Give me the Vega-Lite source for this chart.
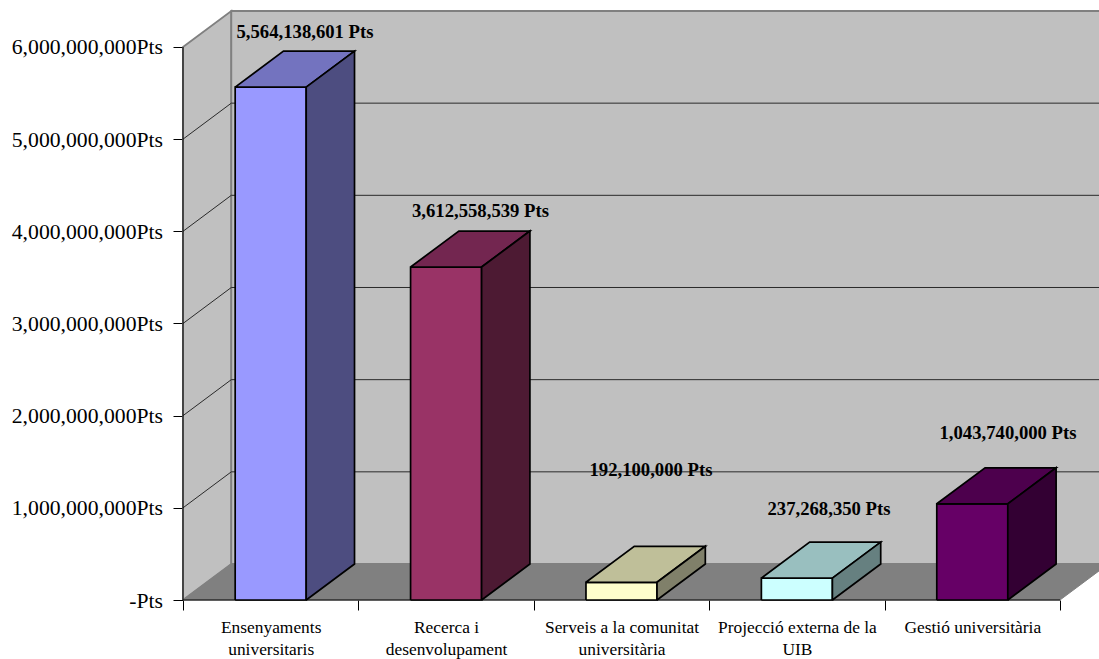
{
  "$schema": "https://vega.github.io/schema/vega-lite/v6.json",
  "width": 1099,
  "height": 659,
  "padding": 0,
  "autosize": {"type": "none"},
  "background": "#FFFFFF",
  "view": {"stroke": null},
  "config": {"font": "Liberation Serif"},
  "datasets": {
    "bars": [
      {"category": "Ensenyaments universitaris", "i": 0, "value": 5564138601},
      {"category": "Recerca i desenvolupament", "i": 1, "value": 3612558539},
      {"category": "Serveis a la comunitat universitària", "i": 2, "value": 192100000},
      {"category": "Projecció externa de la UIB", "i": 3, "value": 237268350},
      {"category": "Gestió universitària", "i": 4, "value": 1043740000}
    ],
    "labels": [
      {"category": "Ensenyaments universitaris", "value": 5564138601, "x": 0.6956, "y": 6162600000},
      {"category": "Recerca i desenvolupament", "value": 3612558539, "x": 1.696, "y": 4220500000},
      {"category": "Serveis a la comunitat universitària", "value": 192100000, "x": 2.668, "y": 1410500000},
      {"category": "Projecció externa de la UIB", "value": 237268350, "x": 3.683, "y": 987300000},
      {"category": "Gestió universitària", "value": 1043740000, "x": 4.7036, "y": 1811900000}
    ],
    "frame": [
      {"face": "left", "k": 0, "u": 0, "v": 0, "w": 0},
      {"face": "left", "k": 1, "u": 0, "v": 0, "w": 1},
      {"face": "left", "k": 2, "u": 0, "v": 6000000000, "w": 1},
      {"face": "left", "k": 3, "u": 0, "v": 6000000000, "w": 0},
      {"face": "left", "k": 4, "u": 0, "v": 0, "w": 0},
      {"face": "back", "k": 0, "u": 0, "v": 0, "w": 1},
      {"face": "back", "k": 1, "u": 5, "v": 0, "w": 1},
      {"face": "back", "k": 2, "u": 5, "v": 6000000000, "w": 1},
      {"face": "back", "k": 3, "u": 0, "v": 6000000000, "w": 1},
      {"face": "back", "k": 4, "u": 0, "v": 0, "w": 1},
      {"face": "floor", "k": 0, "u": 0, "v": 0, "w": 0},
      {"face": "floor", "k": 1, "u": 5, "v": 0, "w": 0},
      {"face": "floor", "k": 2, "u": 5, "v": 0, "w": 1},
      {"face": "floor", "k": 3, "u": 0, "v": 0, "w": 1},
      {"face": "floor", "k": 4, "u": 0, "v": 0, "w": 0},
      {"face": "axis", "k": 0, "u": 0, "v": 6000000000, "w": 0},
      {"face": "axis", "k": 1, "u": 0, "v": 0, "w": 0},
      {"face": "axis", "k": 2, "u": 5, "v": 0, "w": 0},
      {"face": "axis", "k": 3, "u": 5, "v": 0, "w": 0}
    ],
    "grid": [
      {"level": 1000000000},
      {"level": 2000000000},
      {"level": 3000000000},
      {"level": 4000000000},
      {"level": 5000000000}
    ]
  },
  "encoding": {
    "x": {
      "field": "x",
      "type": "quantitative",
      "scale": {"domain": [-1.0433, 5.2224], "nice": false, "zero": false},
      "axis": {
        "title": null,
        "grid": false,
        "domain": false,
        "orient": "bottom",
        "offset": -59,
        "values": [0, 0.5, 1, 1.5, 2, 2.5, 3, 3.5, 4, 4.5, 5],
        "tickSize": {"condition": {"test": "datum.value % 1 === 0", "value": 10}, "value": 0},
        "tickColor": "#000000",
        "tickWidth": 1,
        "labelExpr": "datum.value === 0.5 ? ['Ensenyaments', 'universitaris'] : datum.value === 1.5 ? ['Recerca i', 'desenvolupament'] : datum.value === 2.5 ? ['Serveis a la comunitat', 'universitària'] : datum.value === 3.5 ? ['Projecció externa de la', 'UIB'] : datum.value === 4.5 ? ['Gestió universitària'] : ''",
        "labelFont": "Liberation Serif",
        "labelFontSize": 17.4,
        "labelColor": "#000000",
        "labelLineHeight": 22.5,
        "labelPadding": 18,
        "labelOverlap": false,
        "labelBound": false,
        "labelFlush": false,
        "labelLimit": 300,
        "labelAngle": 0
      }
    },
    "y": {
      "field": "y",
      "type": "quantitative",
      "scale": {"domain": [-640100000, 6509800000], "nice": false, "zero": false},
      "axis": {
        "title": null,
        "grid": false,
        "domain": false,
        "orient": "left",
        "offset": -183,
        "values": [0, 1000000000, 2000000000, 3000000000, 4000000000, 5000000000, 6000000000],
        "tickSize": 10,
        "tickColor": "#000000",
        "tickWidth": 1,
        "labelExpr": "datum.value === 0 ? '-Pts' : format(datum.value, ',') + 'Pts'",
        "labelFont": "Liberation Serif",
        "labelFontSize": 21.7,
        "labelColor": "#000000",
        "labelPadding": 10.5,
        "labelOverlap": false,
        "labelBound": false,
        "labelFlush": false,
        "labelLimit": 300
      }
    },
    "order": {"field": "k", "type": "quantitative"},
    "detail": {"field": "part"}
  },
  "layer": [
    {
      "data": {"name": "frame"},
      "transform": [
        {"filter": "datum.face === 'left' || datum.face === 'back'"},
        {"calculate": "datum.face", "as": "part"},
        {"calculate": "datum.u + datum.w * 0.2754", "as": "x"},
        {"calculate": "datum.v + datum.w * 390600000", "as": "y"}
      ],
      "mark": {"type": "line", "filled": true, "fill": "#C0C0C0", "stroke": "#808080", "strokeWidth": 1.8}
    },
    {
      "data": {"name": "frame"},
      "transform": [
        {"filter": "datum.face === 'floor'"},
        {"calculate": "datum.face", "as": "part"},
        {"calculate": "datum.u + datum.w * 0.2754", "as": "x"},
        {"calculate": "datum.v + datum.w * 390600000", "as": "y"}
      ],
      "mark": {"type": "line", "filled": true, "fill": "#808080", "stroke": "#808080", "strokeWidth": 1}
    },
    {
      "data": {"name": "grid"},
      "transform": [
        {"calculate": "[0, 1, 2]", "as": "k"},
        {"flatten": ["k"]},
        {"calculate": "'g' + datum.level", "as": "part"},
        {"calculate": "[0, 0, 5][datum.k]", "as": "x0"},
        {"calculate": "[0, 1, 1][datum.k]", "as": "w"},
        {"calculate": "datum.x0 + datum.w * 0.2754", "as": "x"},
        {"calculate": "datum.level + datum.w * 390600000", "as": "y"}
      ],
      "mark": {"type": "line", "stroke": "#2A2A2A", "strokeWidth": 1}
    },
    {
      "data": {"name": "frame"},
      "transform": [
        {"filter": "datum.face === 'axis'"},
        {"calculate": "datum.face", "as": "part"},
        {"calculate": "datum.u", "as": "x"},
        {"calculate": "datum.v", "as": "y"}
      ],
      "mark": {"type": "line", "stroke": "#000000", "strokeWidth": 1}
    },
    {
      "data": {"name": "bars"},
      "transform": [
        {"calculate": "[0, 1, 2, 3, 4]", "as": "k"},
        {"flatten": ["k"]},
        {"calculate": "datum.category", "as": "part"},
        {"calculate": "[0, 1, 1, 0, 0][datum.k]", "as": "a"},
        {"calculate": "[0, 0, 1, 1, 0][datum.k]", "as": "b"},
        {"calculate": "datum.i + 0.2975 + datum.a * 0.405", "as": "x"},
        {"calculate": "datum.b * datum.value", "as": "y"}
      ],
      "mark": {"type": "line", "filled": true, "stroke": "#000000", "strokeWidth": 1.7, "strokeJoin": "miter"},
      "encoding": {
        "fill": {
          "field": "category",
          "legend": null,
          "scale": {
            "domain": ["Ensenyaments universitaris", "Recerca i desenvolupament", "Serveis a la comunitat universitària", "Projecció externa de la UIB", "Gestió universitària"],
            "range": ["#9999FF", "#993366", "#FFFFCC", "#CCFFFF", "#660066"]
          }
        }
      }
    },
    {
      "data": {"name": "bars"},
      "transform": [
        {"calculate": "[0, 1, 2, 3, 4]", "as": "k"},
        {"flatten": ["k"]},
        {"calculate": "datum.category", "as": "part"},
        {"calculate": "[0, 1, 1, 0, 0][datum.k]", "as": "a"},
        {"calculate": "[0, 0, 1, 1, 0][datum.k]", "as": "b"},
        {"calculate": "datum.i + 0.2975 + datum.a * 0.405 + datum.b * 0.2754", "as": "x"},
        {"calculate": "datum.value + datum.b * 390600000", "as": "y"}
      ],
      "mark": {"type": "line", "filled": true, "stroke": "#000000", "strokeWidth": 1.7, "strokeJoin": "miter"},
      "encoding": {
        "fill": {
          "field": "category",
          "legend": null,
          "scale": {
            "domain": ["Ensenyaments universitaris", "Recerca i desenvolupament", "Serveis a la comunitat universitària", "Projecció externa de la UIB", "Gestió universitària"],
            "range": ["#7373BF", "#732650", "#BFBF99", "#99BFBF", "#4D004D"]
          }
        }
      }
    },
    {
      "data": {"name": "bars"},
      "transform": [
        {"calculate": "[0, 1, 2, 3, 4]", "as": "k"},
        {"flatten": ["k"]},
        {"calculate": "datum.category", "as": "part"},
        {"calculate": "[0, 1, 1, 0, 0][datum.k]", "as": "a"},
        {"calculate": "[0, 0, 1, 1, 0][datum.k]", "as": "b"},
        {"calculate": "datum.i + 0.7025 + datum.a * 0.2754", "as": "x"},
        {"calculate": "datum.b * datum.value + datum.a * 390600000", "as": "y"}
      ],
      "mark": {"type": "line", "filled": true, "stroke": "#000000", "strokeWidth": 1.7, "strokeJoin": "miter"},
      "encoding": {
        "fill": {
          "field": "category",
          "legend": null,
          "scale": {
            "domain": ["Ensenyaments universitaris", "Recerca i desenvolupament", "Serveis a la comunitat universitària", "Projecció externa de la UIB", "Gestió universitària"],
            "range": ["#4D4D80", "#4D1A33", "#80806A", "#668080", "#330033"]
          }
        }
      }
    },
    {
      "data": {"name": "labels"},
      "transform": [
        {"calculate": "format(datum.value, ',') + ' Pts'", "as": "label"}
      ],
      "mark": {"type": "text", "font": "Liberation Serif", "fontWeight": "bold", "fontSize": 18.7, "align": "center", "baseline": "middle", "color": "#000000"},
      "encoding": {
        "text": {"field": "label"},
        "order": null,
        "detail": null
      }
    }
  ],
  "resolve": {"scale": {"fill": "independent"}}
}
